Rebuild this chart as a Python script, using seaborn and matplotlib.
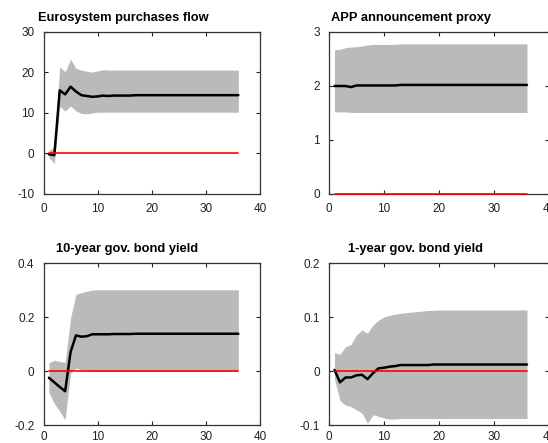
import matplotlib
matplotlib.use("Agg")
import matplotlib.pyplot as plt
import seaborn as sns
import pandas as pd

horizon = list(range(1, 37))

titles = ["Eurosystem purchases flow", "APP announcement proxy",
          "10-year gov. bond yield", "1-year gov. bond yield"]

flow_med = [-0.2, -0.4, 15.6, 14.6, 16.5, 15.3, 14.4, 14.2, 14.0, 14.1, 14.3, 14.2,
            14.3, 14.3, 14.3, 14.3, 14.4, 14.4, 14.4, 14.4, 14.4, 14.4, 14.4, 14.4,
            14.4, 14.4, 14.4, 14.4, 14.4, 14.4, 14.4, 14.4, 14.4, 14.4, 14.4, 14.4]
flow_lo = [-1.0, -2.5, 11.6, 10.5, 11.7, 10.5, 9.9, 9.8, 10.0, 10.2, 10.2, 10.2,
           10.2, 10.2, 10.2, 10.2, 10.2, 10.2, 10.2, 10.2, 10.2, 10.2, 10.2, 10.2,
           10.2, 10.2, 10.2, 10.2, 10.2, 10.2, 10.2, 10.2, 10.2, 10.2, 10.2, 10.2]
flow_hi = [0.8, 1.5, 21.4, 20.2, 23.3, 21.0, 20.6, 20.3, 20.1, 20.4, 20.7, 20.6,
           20.6, 20.6, 20.6, 20.6, 20.6, 20.6, 20.6, 20.6, 20.6, 20.6, 20.6, 20.6,
           20.6, 20.6, 20.6, 20.6, 20.6, 20.6, 20.6, 20.6, 20.6, 20.6, 20.6, 20.6]

app_med = [2.00, 2.00, 2.00, 1.98, 2.01, 2.01, 2.01, 2.01, 2.01, 2.01, 2.01, 2.01,
           2.02, 2.02, 2.02, 2.02, 2.02, 2.02, 2.02, 2.02, 2.02, 2.02, 2.02, 2.02,
           2.02, 2.02, 2.02, 2.02, 2.02, 2.02, 2.02, 2.02, 2.02, 2.02, 2.02, 2.02]
app_lo = [1.52, 1.52, 1.52, 1.51, 1.51, 1.51, 1.51, 1.51, 1.51, 1.51, 1.51, 1.51,
          1.51, 1.51, 1.51, 1.51, 1.51, 1.51, 1.51, 1.51, 1.51, 1.51, 1.51, 1.51,
          1.51, 1.51, 1.51, 1.51, 1.51, 1.51, 1.51, 1.51, 1.51, 1.51, 1.51, 1.51]
app_hi = [2.67, 2.68, 2.71, 2.72, 2.73, 2.74, 2.76, 2.77, 2.77, 2.77, 2.77, 2.77,
          2.78, 2.78, 2.78, 2.78, 2.78, 2.78, 2.78, 2.78, 2.78, 2.78, 2.78, 2.78,
          2.78, 2.78, 2.78, 2.78, 2.78, 2.78, 2.78, 2.78, 2.78, 2.78, 2.78, 2.78]

y10_med = [-0.025, -0.042, -0.059, -0.075, 0.070, 0.132, 0.127, 0.129, 0.136, 0.136, 0.136, 0.136,
           0.137, 0.137, 0.137, 0.137, 0.138, 0.138, 0.138, 0.138, 0.138, 0.138, 0.138, 0.138,
           0.138, 0.138, 0.138, 0.138, 0.138, 0.138, 0.138, 0.138, 0.138, 0.138, 0.138, 0.138]
y10_lo = [-0.080, -0.120, -0.150, -0.180, -0.008, 0.010, 0.004, 0.000, -0.001, -0.001, -0.001, -0.001,
          -0.001, -0.001, -0.001, -0.001, -0.001, -0.001, -0.001, -0.001, -0.001, -0.001, -0.001, -0.001,
          -0.001, -0.001, -0.001, -0.001, -0.001, -0.001, -0.001, -0.001, -0.001, -0.001, -0.001, -0.001]
y10_hi = [0.030, 0.040, 0.035, 0.032, 0.197, 0.284, 0.290, 0.295, 0.300, 0.301, 0.301, 0.301,
          0.301, 0.301, 0.301, 0.301, 0.301, 0.301, 0.301, 0.301, 0.301, 0.301, 0.301, 0.301,
          0.301, 0.301, 0.301, 0.301, 0.301, 0.301, 0.301, 0.301, 0.301, 0.301, 0.301, 0.301]

y1_med = [0.002, -0.021, -0.012, -0.012, -0.008, -0.007, -0.015, -0.004, 0.005, 0.006, 0.008, 0.009,
          0.011, 0.011, 0.011, 0.011, 0.011, 0.011, 0.012, 0.012, 0.012, 0.012, 0.012, 0.012,
          0.012, 0.012, 0.012, 0.012, 0.012, 0.012, 0.012, 0.012, 0.012, 0.012, 0.012, 0.012]
y1_lo = [-0.015, -0.055, -0.063, -0.066, -0.072, -0.078, -0.097, -0.081, -0.084, -0.087, -0.089, -0.089,
         -0.088, -0.088, -0.088, -0.088, -0.088, -0.088, -0.088, -0.088, -0.088, -0.088, -0.088, -0.088,
         -0.088, -0.088, -0.088, -0.088, -0.088, -0.088, -0.088, -0.088, -0.088, -0.088, -0.088, -0.088]
y1_hi = [0.034, 0.031, 0.045, 0.049, 0.067, 0.076, 0.070, 0.085, 0.094, 0.100, 0.103, 0.105,
         0.107, 0.108, 0.109, 0.110, 0.111, 0.112, 0.112, 0.113, 0.113, 0.113, 0.113, 0.113,
         0.113, 0.113, 0.113, 0.113, 0.113, 0.113, 0.113, 0.113, 0.113, 0.113, 0.113, 0.113]

zero_line = [0.0] * 36

ylims = [(-10, 30), (0, 3), (-0.2, 0.4), (-0.1, 0.2)]
yticks = [[-10, 0, 10, 20, 30], [0, 1, 2, 3], [-0.2, 0, 0.2, 0.4], [-0.1, 0, 0.1, 0.2]]
yticklabels = [["-10", "0", "10", "20", "30"], ["0", "1", "2", "3"],
               ["-0.2", "0", "0.2", "0.4"], ["-0.1", "0", "0.1", "0.2"]]
xticks = [0, 10, 20, 30, 40]
xticklabels = ["0", "10", "20", "30", "40"]

series = [(flow_med, flow_lo, flow_hi), (app_med, app_lo, app_hi),
          (y10_med, y10_lo, y10_hi), (y1_med, y1_lo, y1_hi)]

sns.set_style("ticks")
plt.rcParams["font.family"] = ["Liberation Sans", "DejaVu Sans"]

fig = plt.figure(figsize=(5.48, 4.43), dpi=100)
W, H = 548, 443
positions = [
    (43.5 / W, 1 - 194 / H, 216.5 / W, 162 / H),
    (329 / W, 1 - 194 / H, 220 / W, 162 / H),
    (43.5 / W, 1 - 425 / H, 216.5 / W, 162 / H),
    (329 / W, 1 - 425 / H, 220 / W, 162 / H),
]
title_x = [0.367, 0.373, 0.388, 0.394]

for i in range(4):
    ax = fig.add_axes(positions[i])
    med, lo, hi = series[i]
    df = pd.DataFrame({"h": horizon, "med": med, "lo": lo, "hi": hi, "zero": zero_line})
    ax.fill_between(df["h"], df["lo"], df["hi"], color="#bababa", linewidth=0, zorder=1)
    sns.lineplot(data=df, x="h", y="med", ax=ax, color="black", linewidth=1.8, zorder=2)
    sns.lineplot(data=df, x="h", y="zero", ax=ax, color="#ff0000", linewidth=1.2,
                 zorder=5, clip_on=False)
    ax.set_xlim(0, 40)
    ax.set_ylim(*ylims[i])
    ax.set_xticks(xticks)
    ax.set_xticklabels(xticklabels)
    ax.set_yticks(yticks[i])
    ax.set_yticklabels(yticklabels[i])
    ax.set_xlabel("")
    ax.set_ylabel("")
    ax.tick_params(direction="in", top=True, right=True, length=3, width=0.8,
                   labelsize=8.5, colors="#222222", pad=6.5)
    if i >= 2:
        ax.tick_params(axis="x", pad=4.5)
    for sp in ax.spines.values():
        sp.set_visible(True)
        sp.set_color("#333333")
        sp.set_linewidth(0.9)
        sp.set_zorder(4)
    ax.set_title(titles[i], x=title_x[i], pad=8, fontsize=9.3, fontweight="bold", color="black")

fig.savefig("out.png", dpi=100)
